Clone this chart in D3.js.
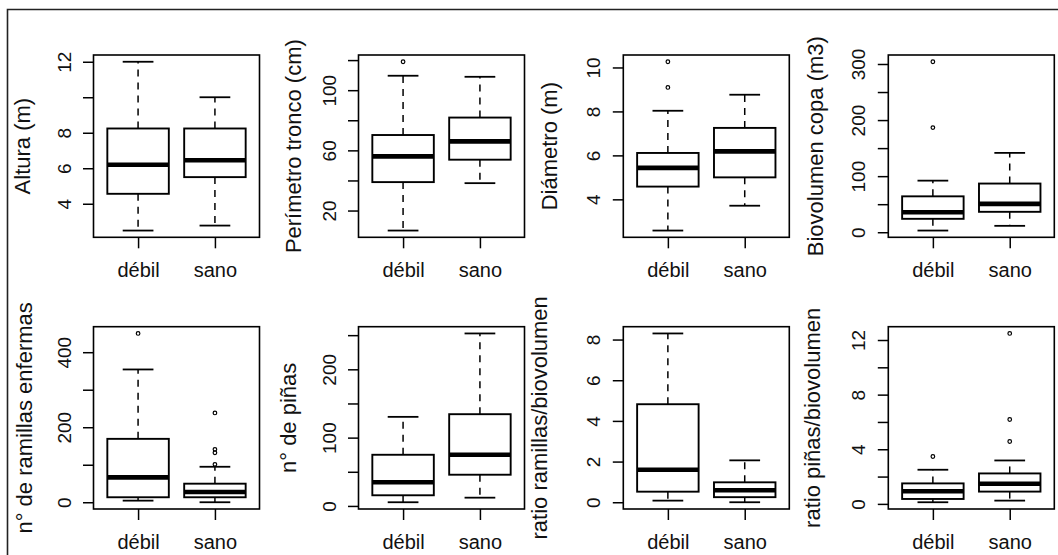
<!DOCTYPE html>
<html>
<head>
<meta charset="utf-8">
<script src="https://cdn.jsdelivr.net/npm/d3@7"></script>
<style>
  html, body { margin: 0; padding: 0; background: #fff; }
  svg { display: block; }
  text { font-family: "Liberation Sans", Arial, sans-serif; fill: #111; }
</style>
</head>
<body>
<svg id="chart" width="1058" height="555"></svg>
<script>
// ---------------- DATA ----------------
const groups = ["débil", "sano"];
const groupPositions = [1, 2];

const yTitles = [
  "Altura (m)", "Perímetro tronco (cm)", "Diámetro (m)", "Biovolumen copa (m3)",
  "n° de ramillas enfermas", "n° de piñas", "ratio ramillas/biovolumen", "ratio piñas/biovolumen"
];

// five-number summaries per group: [lower whisker, Q1, median, Q3, upper whisker]
const altura      = [[2.49, 4.56, 6.2, 8.24, 12.0], [2.77, 5.5, 6.45, 8.24, 10.0]];
const perimetro   = [[6.7, 38.9, 56, 70.2, 109.6], [38.2, 53.8, 66, 81.8, 108.9]];
const diametro    = [[2.58, 4.58, 5.43, 6.11, 8.03], [3.71, 5.0, 6.18, 7.25, 8.76]];
const biovolumen  = [[3, 23.9, 35.6, 64, 92], [11.4, 36.4, 50.6, 86.8, 141.5]];
const ramillas    = [[4.3, 13.3, 66.4, 169, 354], [0, 13.3, 27.4, 49.5, 94.6]];
const pinas       = [[5.4, 15.6, 34.6, 74.9, 130.4], [12.1, 45.7, 74.9, 134.3, 252.5]];
const ratioRamillas = [[0.08, 0.52, 1.6, 4.82, 8.3], [0, 0.25, 0.59, 0.98, 2.06]];
const ratioPinas  = [[0.12, 0.36, 0.92, 1.5, 2.5], [0.24, 0.9, 1.48, 2.23, 3.18]];

// outliers per group
const alturaOut      = [[], []];
const perimetroOut   = [[118.9], []];
const diametroOut    = [[9.09, 10.26], []];
const biovolumenOut  = [[186.6, 304], []];
const ramillasOut    = [[450], [101, 132, 141, 238]];
const pinasOut       = [[], []];
const ratioRamillasOut = [[], []];
const ratioPinasOut  = [[3.47], [4.57, 6.18, 12.48]];

// y tick values and labels ("" = tick without label)
const alturaTicks = [4, 6, 8, 10, 12];           const alturaTickLabels = ["4", "6", "8", "", "12"];
const perimetroTicks = [20, 40, 60, 80, 100, 120]; const perimetroTickLabels = ["20", "", "60", "", "100", ""];
const diametroTicks = [4, 6, 8, 10];             const diametroTickLabels = ["4", "6", "8", "10"];
const biovolumenTicks = [0, 50, 100, 150, 200, 250, 300]; const biovolumenTickLabels = ["0", "", "100", "", "200", "", "300"];
const ramillasTicks = [0, 100, 200, 300, 400];   const ramillasTickLabels = ["0", "", "200", "", "400"];
const pinasTicks = [0, 50, 100, 150, 200, 250];  const pinasTickLabels = ["0", "", "100", "", "200", ""];
const ratioRamillasTicks = [0, 2, 4, 6, 8];      const ratioRamillasTickLabels = ["0", "2", "4", "6", "8"];
const ratioPinasTicks = [0, 2, 4, 6, 8, 10, 12]; const ratioPinasTickLabels = ["0", "", "4", "", "8", "", "12"];

// ---------------- LAYOUT ----------------
const panelStats = [altura, perimetro, diametro, biovolumen, ramillas, pinas, ratioRamillas, ratioPinas];
const panelOut = [alturaOut, perimetroOut, diametroOut, biovolumenOut, ramillasOut, pinasOut, ratioRamillasOut, ratioPinasOut];
const panelTicks = [alturaTicks, perimetroTicks, diametroTicks, biovolumenTicks, ramillasTicks, pinasTicks, ratioRamillasTicks, ratioPinasTicks];
const panelTickLabels = [alturaTickLabels, perimetroTickLabels, diametroTickLabels, biovolumenTickLabels, ramillasTickLabels, pinasTickLabels, ratioRamillasTickLabels, ratioPinasTickLabels];

const colLefts = [93.5, 358.5, 623.3, 888.3];
const rowTops = [55, 326.7];
const boxW = 166, boxH = 182.3;
const titleOffsets = [63.5, 58, 66, 65.6, 62, 62.5, 76, 68];

const svg = d3.select("#chart");
svg.append("rect").attr("width", 1058).attr("height", 555).attr("fill", "#fff");

// outer frame (top and left edges visible)
svg.append("path").attr("d", "M7.5,555 L7.5,9.5 L1058,9.5")
  .attr("fill", "none").attr("stroke", "#222").attr("stroke-width", 1.6);

panelStats.forEach((stats, p) => {
  const left = colLefts[p % 4], top = rowTops[Math.floor(p / 4)];
  const g = svg.append("g");

  const allVals = stats.flat().concat(panelOut[p].flat());
  const lo = d3.min(allVals), hi = d3.max(allVals);
  const pad = (hi - lo) * 0.04;
  const y = d3.scaleLinear().domain([lo - pad, hi + pad]).range([top + boxH, top]);
  const x = d3.scaleLinear().domain([0.42, 2.58]).range([left, left + boxW]);

  // y axis
  const yAxis = d3.axisLeft(y).tickValues(panelTicks[p]).tickSize(10.5)
    .tickFormat((d, i) => panelTickLabels[p][i]);
  const ya = g.append("g").attr("transform", `translate(${left},0)`).call(yAxis);
  ya.select(".domain").remove();
  ya.selectAll(".tick line").attr("stroke", "#000").attr("stroke-width", 1.5);
  ya.selectAll(".tick text")
    .attr("x", 0).attr("y", -23).attr("dy", 0)
    .attr("transform", "rotate(-90)")
    .style("text-anchor", "middle")
    .style("font-size", "19px")
    .style("font-family", "'Liberation Sans', Arial, sans-serif")
    .attr("fill", "#111");

  // x axis
  const xAxis = d3.axisBottom(x).tickValues(groupPositions).tickSize(11)
    .tickFormat((d, i) => groups[i]);
  const xa = g.append("g").attr("transform", `translate(0,${top + boxH})`).call(xAxis);
  xa.select(".domain").remove();
  xa.selectAll(".tick line").attr("stroke", "#000").attr("stroke-width", 1.5);
  xa.selectAll(".tick text")
    .attr("y", 39.5).attr("dy", 0)
    .style("font-size", "20px")
    .style("font-family", "'Liberation Sans', Arial, sans-serif")
    .attr("fill", "#111");

  // y title
  const tx = left - titleOffsets[p], ty = top + boxH / 2;
  g.append("text")
    .attr("transform", `translate(${tx},${ty}) rotate(-90)`)
    .attr("text-anchor", "middle")
    .style("font-size", "22px")
    .text(yTitles[p]);

  // boxes
  stats.forEach((s, i) => {
    const c = groupPositions[i];
    const [wl, q1, med, q3, wh] = s;
    // whiskers (dashed)
    g.append("line").attr("x1", x(c)).attr("x2", x(c)).attr("y1", y(q3)).attr("y2", y(wh))
      .attr("stroke", "#000").attr("stroke-width", 1.5).attr("stroke-dasharray", "7,6");
    g.append("line").attr("x1", x(c)).attr("x2", x(c)).attr("y1", y(q1)).attr("y2", y(wl))
      .attr("stroke", "#000").attr("stroke-width", 1.5).attr("stroke-dasharray", "7,6");
    // staples
    [wl, wh].forEach(v => {
      g.append("line").attr("x1", x(c - 0.2)).attr("x2", x(c + 0.2)).attr("y1", y(v)).attr("y2", y(v))
        .attr("stroke", "#000").attr("stroke-width", 1.8);
    });
    // box
    g.append("rect").attr("x", x(c - 0.4)).attr("width", x(c + 0.4) - x(c - 0.4))
      .attr("y", y(q3)).attr("height", y(q1) - y(q3))
      .attr("fill", "#fff").attr("stroke", "#000").attr("stroke-width", 1.9);
    // median
    g.append("line").attr("x1", x(c - 0.4)).attr("x2", x(c + 0.4)).attr("y1", y(med)).attr("y2", y(med))
      .attr("stroke", "#000").attr("stroke-width", 4.6);
    // outliers
    panelOut[p][i].forEach(v => {
      g.append("circle").attr("cx", x(c)).attr("cy", y(v)).attr("r", 1.8)
        .attr("fill", "none").attr("stroke", "#000").attr("stroke-width", 1.2);
    });
  });

  // plot frame
  g.append("rect").attr("x", left).attr("y", top).attr("width", boxW).attr("height", boxH)
    .attr("fill", "none").attr("stroke", "#000").attr("stroke-width", 1.6);
});
</script>
</body>
</html>
